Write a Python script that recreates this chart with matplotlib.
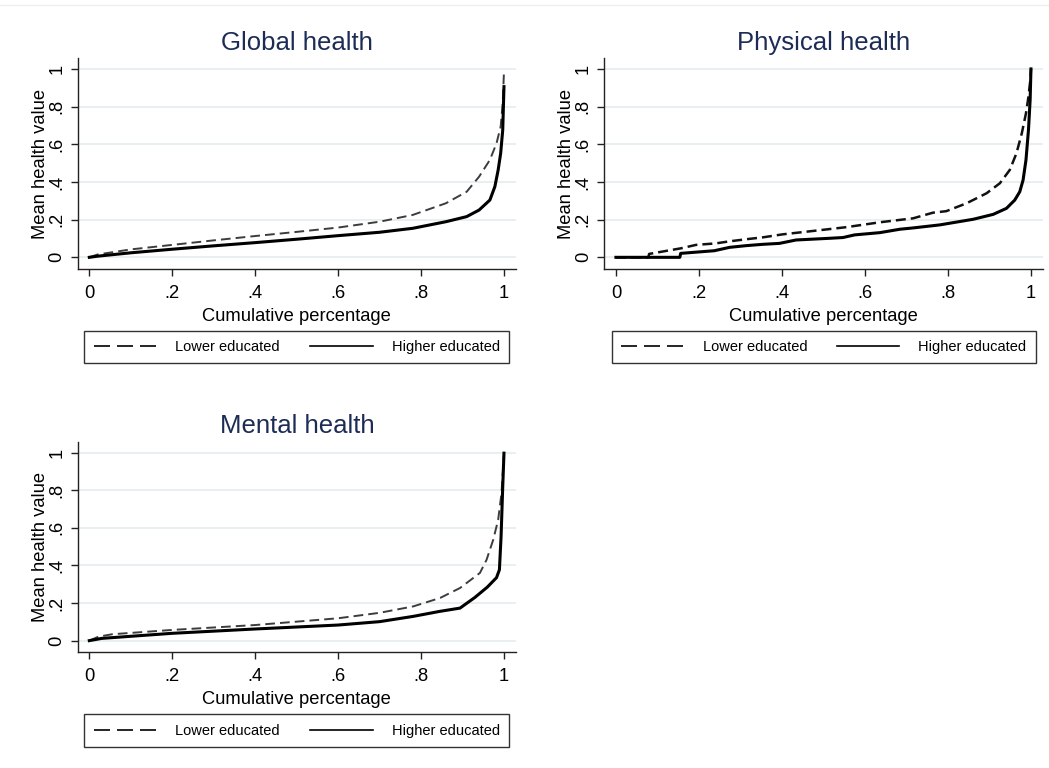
import matplotlib
matplotlib.use("Agg")
import matplotlib.pyplot as plt
from matplotlib.lines import Line2D

plt.rcParams['font.family'] = ['Liberation Sans', 'DejaVu Sans']

# ---------------- data ----------------
tick_vals = [0, 0.2, 0.4, 0.6, 0.8, 1.0]
tick_labels = ["0", ".2", ".4", ".6", ".8", "1"]
series_labels = ["Lower educated", "Higher educated"]
titles = ["Global health", "Physical health", "Mental health"]

global_low_x = [0, 0.02, 0.1, 0.2, 0.3, 0.4, 0.5, 0.6, 0.7, 0.78, 0.86, 0.91, 0.94, 0.966, 0.982, 0.992, 0.997, 1.0]
global_low_y = [0, 0.015, 0.042, 0.066, 0.09, 0.113, 0.135, 0.158, 0.189, 0.225, 0.287, 0.348, 0.428, 0.517, 0.605, 0.694, 0.818, 0.986]
global_high_x = [0, 0.02, 0.1, 0.2, 0.3, 0.4, 0.5, 0.6, 0.7, 0.78, 0.86, 0.91, 0.94, 0.966, 0.978, 0.986, 0.992, 0.997, 1.0]
global_high_y = [0, 0.006, 0.024, 0.043, 0.061, 0.078, 0.096, 0.115, 0.133, 0.154, 0.189, 0.216, 0.251, 0.304, 0.375, 0.464, 0.552, 0.676, 0.906]

phys_low_x = [0, 0.078, 0.08, 0.157, 0.193, 0.241, 0.274, 0.314, 0.354, 0.402, 0.475, 0.555, 0.636, 0.716, 0.764, 0.796,
              0.845, 0.893, 0.925, 0.949, 0.965, 0.978, 0.988, 0.994, 0.999, 1.0]
phys_low_y = [0, 0, 0.018, 0.048, 0.066, 0.074, 0.085, 0.096, 0.106, 0.122, 0.14, 0.16, 0.186, 0.207, 0.237, 0.245,
              0.287, 0.34, 0.393, 0.464, 0.552, 0.659, 0.765, 0.853, 0.951, 1.0]
phys_high_x = [0, 0.154, 0.156, 0.237, 0.274, 0.314, 0.354, 0.394, 0.434, 0.515, 0.547, 0.575, 0.636, 0.684, 0.716, 0.78,
               0.861, 0.909, 0.941, 0.961, 0.973, 0.981, 0.988, 0.994, 0.998, 1.0]
phys_high_y = [0, 0, 0.021, 0.035, 0.053, 0.062, 0.069, 0.074, 0.092, 0.101, 0.105, 0.119, 0.131, 0.149, 0.156, 0.172,
               0.202, 0.228, 0.26, 0.304, 0.348, 0.41, 0.517, 0.676, 0.835, 1.0]

ment_low_x = [0, 0.022, 0.055, 0.2, 0.4, 0.6, 0.7, 0.781, 0.846, 0.894, 0.942, 0.958, 0.974, 0.986, 0.994, 1.0]
ment_low_y = [0, 0.021, 0.034, 0.057, 0.083, 0.119, 0.148, 0.182, 0.227, 0.28, 0.36, 0.43, 0.536, 0.643, 0.784, 0.997]
ment_high_x = [0, 0.03, 0.2, 0.4, 0.6, 0.7, 0.781, 0.846, 0.894, 0.93, 0.96, 0.982, 0.989, 0.993, 0.997, 1.0]
ment_high_y = [0, 0.012, 0.039, 0.062, 0.083, 0.101, 0.129, 0.156, 0.173, 0.23, 0.285, 0.335, 0.377, 0.554, 0.819, 0.997]

panels = [
    (titles[0], global_low_x, global_low_y, global_high_x, global_high_y),
    (titles[1], phys_low_x, phys_low_y, phys_high_x, phys_high_y),
    (titles[2], ment_low_x, ment_low_y, ment_high_x, ment_high_y),
]

# ---------------- layout ----------------
W, H = 1049, 768
fig = plt.figure(figsize=(W / 100, H / 100), dpi=100)

# axes boxes in pixels: (left, top, right, bottom) from top-left
boxes = [(77.7, 58, 516, 269), (604.3, 58, 1043, 269), (77.7, 441.7, 516, 652.3)]
legend_boxes = [(84.3, 330, 509.3, 364), (611.7, 330, 1036, 364), (84.3, 714.3, 509.3, 747.3)]
low_styles = [dict(color='#3c3c3c', lw=1.4, dashes=(5, 2.6)),
              dict(color='#111111', lw=1.8, dashes=(4, 2.0)),
              dict(color='#3c3c3c', lw=1.4, dashes=(5, 2.6))]

title_color = '#1c2c55'
grid_color = '#e6eef0'
axis_color = '#222222'
fs_tick = 13.2
fs_title = 18.5
fs_leg = 10.5

fig.add_artist(Line2D([0, 1], [1 - 5 / H, 1 - 5 / H], transform=fig.transFigure, color='#eeeeee', lw=1))

for (title, lx, ly, hx, hy), (l, t, r, b), (ll, lt, lr, lb), lst in zip(panels, boxes, legend_boxes, low_styles):
    ax = fig.add_axes([l / W, 1 - b / H, (r - l) / W, (b - t) / H])
    ax.plot(lx, ly, solid_capstyle='butt', dash_capstyle='butt', **lst)
    ax.plot(hx, hy, color='black', lw=2.2, solid_joinstyle='round')
    ax.set_xlim(-0.028, 1.029)
    ax.set_ylim(-0.062, 1.058)
    ax.set_xticks(tick_vals)
    ax.set_xticklabels(tick_labels)
    ax.set_yticks(tick_vals)
    ax.set_yticklabels(tick_labels, rotation=90, va='center')
    ax.grid(axis='y', color=grid_color, lw=1.3)
    ax.set_axisbelow(True)
    for s in ['top', 'right']:
        ax.spines[s].set_visible(False)
    for s in ['left', 'bottom']:
        ax.spines[s].set_color(axis_color)
        ax.spines[s].set_linewidth(1.0)
    ax.tick_params(axis='both', direction='out', length=5, width=1, color=axis_color,
                   labelsize=fs_tick, pad=4)
    ax.tick_params(axis='x', pad=6.5)
    ax.set_xlabel("Cumulative percentage", fontsize=fs_tick, labelpad=4)
    ax.set_ylabel("Mean health value", fontsize=fs_tick, labelpad=-0.5)
    ax.set_title(title, fontsize=fs_title, color=title_color, pad=6)

    h1 = Line2D([], [], color='black', lw=1.2, dashes=(9.6, 4.2))
    h2 = Line2D([], [], color='black', lw=1.2)
    leg = ax.legend([h1, h2], series_labels, loc='center', ncol=2, mode='expand',
                    bbox_to_anchor=(ll / W, 1 - lb / H, (lr - ll) / W, (lb - lt) / H),
                    bbox_transform=fig.transFigure, fontsize=fs_leg, frameon=True,
                    fancybox=False, shadow=False, borderaxespad=0, borderpad=0.65,
                    handlelength=4.3, handletextpad=1.3, columnspacing=2.5)
    fr = leg.get_frame()
    fr.set_edgecolor('#333333')
    fr.set_linewidth(1.0)
    fr.set_facecolor('white')
    fr.set_alpha(1)

fig.savefig("out.png", dpi=100, facecolor='white')
